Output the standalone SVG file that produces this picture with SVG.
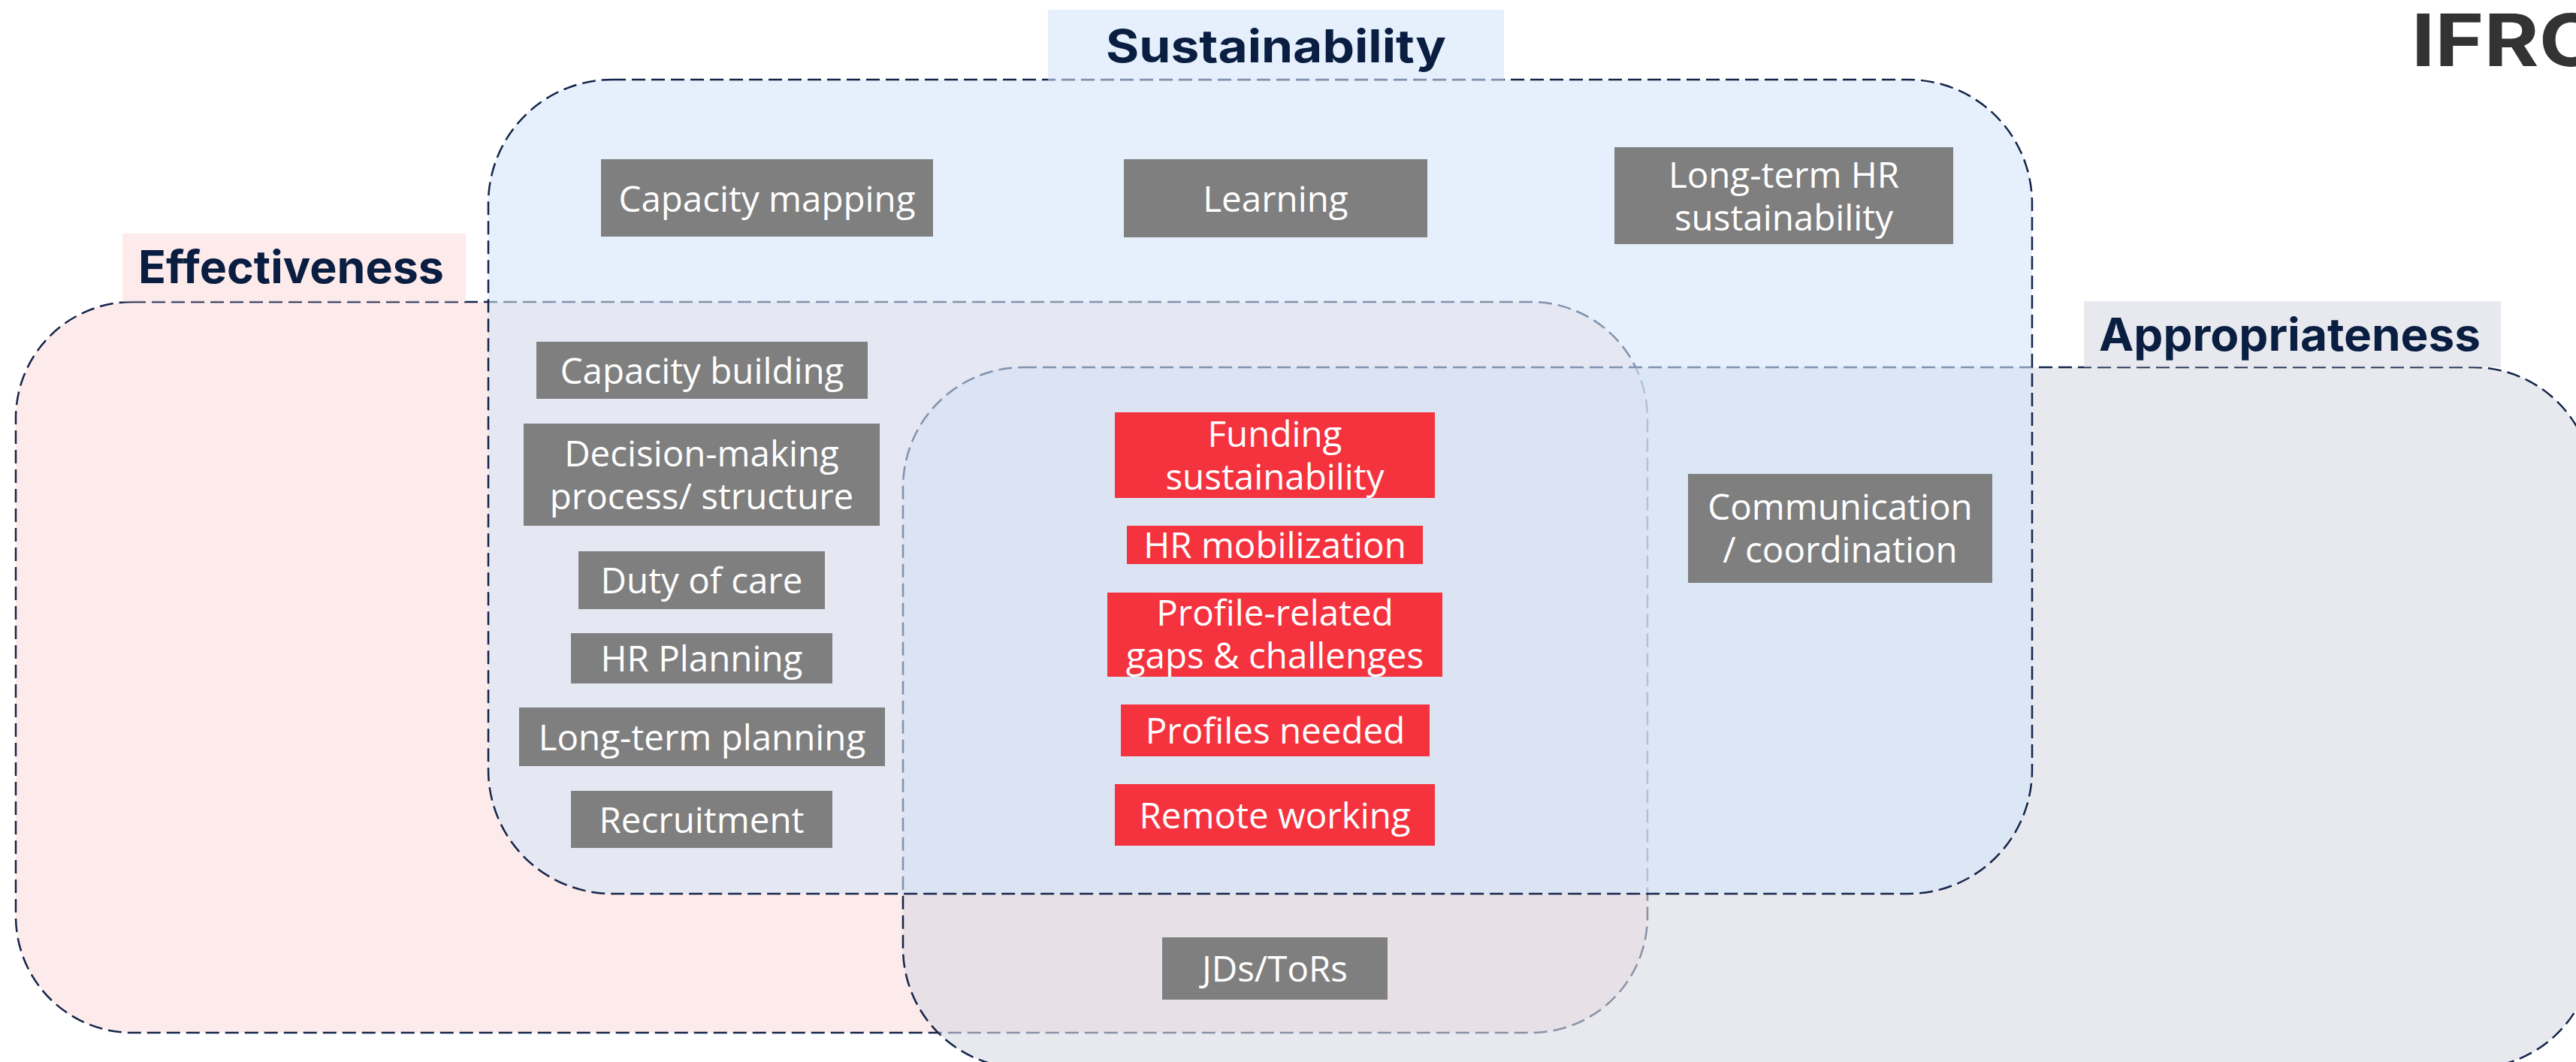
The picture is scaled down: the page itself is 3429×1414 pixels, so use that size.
<svg xmlns="http://www.w3.org/2000/svg" width="3429" height="1414" viewBox="0 0 3429 1414">
<style>
.set{stroke:#14254A;stroke-width:2.5;stroke-dasharray:18 8}
.eff{fill:#FBD7D7;fill-opacity:.5}
.app{fill:#D9DAE4;fill-opacity:.6}
.sus{fill:#D3E5FA;fill-opacity:.57}
.g{fill:#7F7F7F}
.r{fill:#F4333F}
.t{font-family:"Open Sans","Noto Sans","Liberation Sans",sans-serif;font-size:47.5px;fill:#FFFFFF;text-anchor:middle}
.h{font-family:Inter,Lato,"Liberation Sans",sans-serif;font-weight:700;font-size:60px;fill:#0A1E42}
.logo{font-family:Inter,Lato,"Liberation Sans",sans-serif;font-weight:700;font-size:96px;fill:#333333}
</style>
<rect width="3429" height="1414" fill="#FFFFFF"/>
<g id="sets">
  <rect id="set-effectiveness" class="set eff" x="21" y="402" width="2172" height="973" rx="155" ry="155"/>
  <rect id="set-appropriateness" class="set app" x="1202" y="489" width="2250" height="933" rx="160" ry="160"/>
  <rect id="set-sustainability" class="set sus" x="650" y="106" width="2055" height="1084" rx="165" ry="165"/>
</g>
<g id="set-labels">
  <g id="label-sustainability">
    <rect class="sus" x="1395" y="13" width="607" height="94"/>
    <text class="h" x="1472" y="83" textLength="453" lengthAdjust="spacingAndGlyphs">Sustainability</text>
  </g>
  <g id="label-effectiveness">
    <rect class="eff" x="163" y="311" width="457" height="91"/>
    <text class="h" x="184" y="377" textLength="407" lengthAdjust="spacingAndGlyphs">Effectiveness</text>
  </g>
  <g id="label-appropriateness">
    <rect class="app" x="2774" y="401" width="555" height="88"/>
    <text class="h" x="2794" y="467" textLength="508" lengthAdjust="spacingAndGlyphs">Appropriateness</text>
  </g>
  <text id="logo" class="logo" x="3210" y="88" textLength="252" lengthAdjust="spacingAndGlyphs">IFRC</text>
</g>
<g id="connectors"></g>
<g id="nodes">
  <g id="capacity-mapping"><rect class="g" x="800" y="212" width="442" height="103"/><text class="t" x="1021" y="282">Capacity mapping</text></g>
  <g id="learning"><rect class="g" x="1496" y="212" width="404" height="104"/><text class="t" x="1698" y="282">Learning</text></g>
  <g id="long-term-hr"><rect class="g" x="2149" y="196" width="451" height="129"/><text class="t" x="2374.5" y="250">Long-term HR<tspan x="2374.5" dy="57">sustainability</tspan></text></g>
  <g id="capacity-building"><rect class="g" x="714" y="455" width="441" height="76"/><text class="t" x="934.5" y="511">Capacity building</text></g>
  <g id="decision-making"><rect class="g" x="697" y="564" width="474" height="136"/><text class="t" x="934" y="621">Decision-making<tspan x="934" dy="57">process/ structure</tspan></text></g>
  <g id="duty-of-care"><rect class="g" x="770" y="734" width="328" height="77"/><text class="t" x="934" y="790">Duty of care</text></g>
  <g id="hr-planning"><rect class="g" x="760" y="843" width="348" height="67"/><text class="t" x="934" y="894">HR Planning</text></g>
  <g id="long-term-planning"><rect class="g" x="691" y="942" width="487" height="78"/><text class="t" x="934.5" y="999">Long-term planning</text></g>
  <g id="recruitment"><rect class="g" x="760" y="1053" width="348" height="76"/><text class="t" x="934" y="1109">Recruitment</text></g>
  <g id="funding-sustainability"><rect class="r" x="1484" y="549" width="426" height="114"/><text class="t" x="1697" y="595">Funding<tspan x="1697" dy="57">sustainability</tspan></text></g>
  <g id="hr-mobilization"><rect class="r" x="1500" y="700" width="394" height="51"/><text class="t" x="1697" y="743">HR mobilization</text></g>
  <g id="profile-related"><rect class="r" x="1474" y="789" width="446" height="112"/><text class="t" x="1697" y="833">Profile-related<tspan x="1697" dy="57">gaps &amp; challenges</tspan></text></g>
  <g id="profiles-needed"><rect class="r" x="1492" y="938" width="411" height="69"/><text class="t" x="1697.5" y="990">Profiles needed</text></g>
  <g id="remote-working"><rect class="r" x="1484" y="1044" width="426" height="82"/><text class="t" x="1697" y="1103">Remote working</text></g>
  <g id="jds-tors"><rect class="g" x="1547" y="1248" width="300" height="83"/><text class="t" x="1697" y="1307">JDs/ToRs</text></g>
  <g id="communication"><rect class="g" x="2247" y="631" width="405" height="145"/><text class="t" x="2449.5" y="692">Communication<tspan x="2449.5" dy="57">/ coordination</tspan></text></g>
</g>
</svg>
